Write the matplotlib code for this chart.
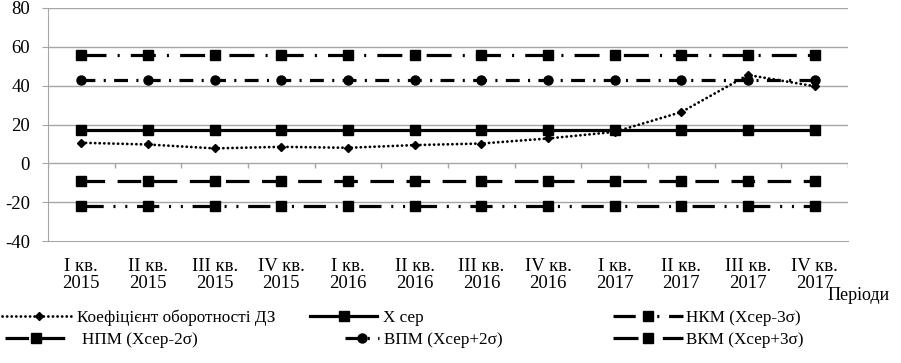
import numpy as np
import matplotlib.pyplot as plt
from matplotlib.lines import Line2D

plt.rcParams['font.family'] = ['Liberation Serif', 'DejaVu Serif']
plt.rcParams['font.size'] = 12.3
plt.rcParams['axes.unicode_minus'] = False
plt.rcParams['lines.scale_dashes'] = False

# дані
periods = ['I кв.\n2015', 'II кв.\n2015', 'III кв.\n2015', 'IV кв.\n2015',
           'I кв.\n2016', 'II кв.\n2016', 'III кв.\n2016', 'IV кв.\n2016',
           'I кв.\n2017', 'II кв.\n2017', 'III кв.\n2017', 'IV кв.\n2017']
koef = [10.6, 9.7, 7.7, 8.5, 8.0, 9.4, 10.2, 12.8, 16.2, 26.4, 45.5, 39.7]
x_ser = 17.0
sigma = 13.0
npm = x_ser - 2 * sigma
vpm = x_ser + 2 * sigma
nkm = x_ser - 3 * sigma
vkm = x_ser + 3 * sigma

n = len(periods)
x = np.arange(n)

fig = plt.figure(figsize=(9.01, 3.63), dpi=100)
ax = fig.add_axes([48 / 901, 1 - 241 / 363, 800 / 901, 233 / 363])

grey = '#a6a6a6'
for v in [-20, 20, 40, 60, 80]:
    ax.axhline(v, color=grey, lw=1, zorder=0)
ax.axhline(0, color=grey, lw=1, zorder=0)
# поділки осі категорій на рівні 0
ax.vlines(np.arange(n + 1) - 0.5, -2.6, 0, color=grey, lw=1, zorder=0)

styles = {
    'koef': dict(color='black', lw=2, linestyle=(0, (0.1, 3.2)), dash_capstyle='round',
                 marker='D', ms=4.5),
    'xser': dict(color='black', lw=2.3, linestyle='-', marker='s', ms=6.5),
    'nkm': dict(color='black', lw=2.3, linestyle=(0, (16, 7, 1.5, 7, 1.5, 7)), marker='s', ms=6.5),
    'npm': dict(color='black', lw=2.3, linestyle=(0, (17, 9)), marker='s', ms=6.5),
    'vpm': dict(color='black', lw=2.3, linestyle=(0, (10, 6, 1.5, 6)), marker='o', ms=6.5),
    'vkm': dict(color='black', lw=2.3, linestyle=(0, (18, 8, 1.5, 8)), marker='s', ms=6.5),
}

ax.plot(x, koef, **styles['koef'])
ax.plot(x, [x_ser] * n, **styles['xser'])
ax.plot(x, [nkm] * n, **styles['nkm'])
ax.plot(x, [npm] * n, **styles['npm'])
ax.plot(x, [vpm] * n, **styles['vpm'])
ax.plot(x, [vkm] * n, **styles['vkm'])

ax.set_xlim(-0.5, n - 0.5)
ax.set_ylim(-40, 80)
ax.set_yticks(range(-40, 81, 20))
ax.set_xticks(x)
ax.set_xticklabels(periods, linespacing=1.0)
ax.tick_params(axis='both', labelsize=13.5)
ax.tick_params(axis='x', length=0, pad=12)
ax.tick_params(axis='y', length=4, color=grey, pad=9)
for s in ['top', 'right']:
    ax.spines[s].set_visible(False)
for s in ['left', 'bottom']:
    ax.spines[s].set_color(grey)

fig.text(828 / 901, 1 - 295 / 363, 'Періоди', va='center', ha='left', fontsize=13)

# легенда
entries = [
    ('koef', 'Коефіцієнт оборотності ДЗ', 2, 318, 73, 2),
    ('xser', 'Х сер', 310, 318, 67, 6),
    ('nkm', 'НКМ (Хсер-3σ)', 613, 318, 70, 3),
    ('npm', 'НПМ (Хсер-2σ)', 5, 340, 62, 15),
    ('vpm', 'ВПМ (Хсер+2σ)', 345, 340, 34, 5),
    ('vkm', 'ВКМ (Хсер+3σ)', 613, 340, 70, 3),
]
em = 12.3 * 100 / 72
for key, label, lx, ly, hl, gap in entries:
    h = Line2D([], [], **styles[key])
    fig.legend([h], [label], loc='center left', bbox_to_anchor=(lx / 901, 1 - ly / 363),
               frameon=False, borderpad=0, borderaxespad=0, numpoints=1,
               handlelength=hl / em, handletextpad=gap / em)

fig.savefig('out.png', dpi=100)
